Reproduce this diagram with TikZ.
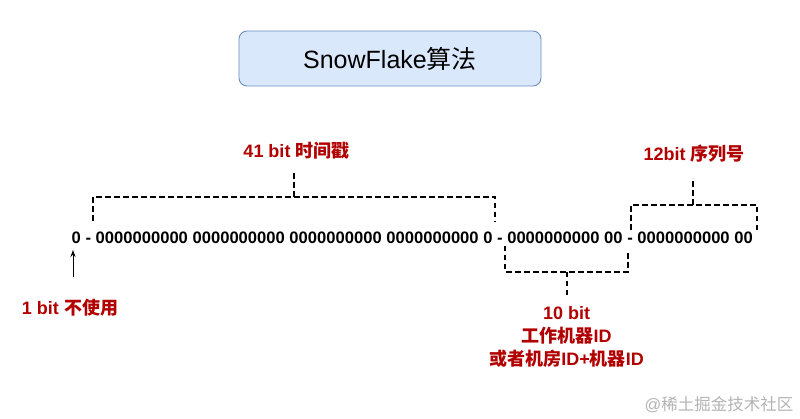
\documentclass[tikz,border=0pt]{standalone}
\usepackage{fontspec}
\setmainfont{Liberation Sans}
\newfontfamily\cjk{Noto Sans CJK SC}
\usetikzlibrary{arrows.meta}
\definecolor{lblred}{HTML}{B20000}
\definecolor{titlefill}{HTML}{DAE8FC}
\definecolor{titledraw}{HTML}{6C8EBF}
\definecolor{wmgray}{HTML}{B4B4B4}
\tikzset{
  titlebox/.style={draw=titledraw, fill=titlefill, line width=0.9pt, rounded corners=8pt, minimum width=302pt, minimum height=55pt, inner sep=0pt, font=\fontsize{25}{30}\selectfont},
  bits/.style={inner sep=0pt, font=\fontsize{16.6}{20}\selectfont\bfseries, anchor=west},
  redlab/.style={inner sep=0pt, text=lblred, font=\fontsize{18}{22.7}\selectfont\bfseries, align=center},
  bracket/.style={draw=black, line width=1.8pt, dash pattern=on 5.5pt off 3.5pt},
  pointer/.style={draw=black, line width=0.8pt, -{Stealth[length=7pt,width=5pt]}},
  watermark/.style={inner sep=0pt, text=wmgray, font=\fontsize{16.5}{20}\selectfont}
}
\begin{document}
\begin{tikzpicture}[x=1pt,y=-1pt]
\useasboundingbox (0,0) rectangle (800,419);
\fill[white] (0,0) rectangle (800,419);

\node[titlebox] (title) at (390,58.5) {SnowFlake{\cjk 算法}};

\node[bits] (bitstr) at (71.5,238) {0 - 0000000000 0000000000 0000000000 0000000000 0 - 0000000000 00 - 0000000000 00};

% 41 bit bracket
\coordinate (a1) at (93,221);
\coordinate (a2) at (93,197);
\coordinate (a3) at (495,197);
\coordinate (a4) at (495,222);
\coordinate (as) at (294,197);
\coordinate (ae) at (294,172);
\draw[bracket] (a1) -- (a2) -- (a3) -- (a4);
\draw[bracket] (as) -- (ae);
\node[redlab] (l41) at (296.5,151) {41 bit {\cjk 时间戳}};

% 12 bit bracket
\coordinate (b1) at (631,230);
\coordinate (b2) at (631,205);
\coordinate (b3) at (757,205);
\coordinate (b4) at (757,230);
\coordinate (bs) at (693,205);
\coordinate (be) at (693,178);
\draw[bracket] (b1) -- (b2) -- (b3) -- (b4);
\draw[bracket] (bs) -- (be);
\node[redlab] (l12) at (694,153.5) {12bit {\cjk 序列号}};

% 10 bit bracket
\coordinate (c1) at (505,246);
\coordinate (c2) at (505,272);
\coordinate (c3) at (628,272);
\coordinate (c4) at (628,251);
\coordinate (cs) at (567,272);
\coordinate (ce) at (567,298);
\draw[bracket] (c1) -- (c2) -- (c3) -- (c4);
\draw[bracket] (cs) -- (ce);
\node[redlab] (l10) at (566.5,337) {10 bit\\{\cjk 工作机器}ID\\{\cjk 或者机房}ID+{\cjk 机器}ID};

% 1 bit pointer
\coordinate (p0) at (73,277);
\coordinate (p1) at (73,250);
\draw[pointer] (p0) -- (p1);
\node[redlab] (l1) at (70,307.5) {1 bit {\cjk 不使用}};

\node[watermark] (wm) at (719,405) {@{\cjk 稀土掘金技术社区}};
\end{tikzpicture}
\end{document}
